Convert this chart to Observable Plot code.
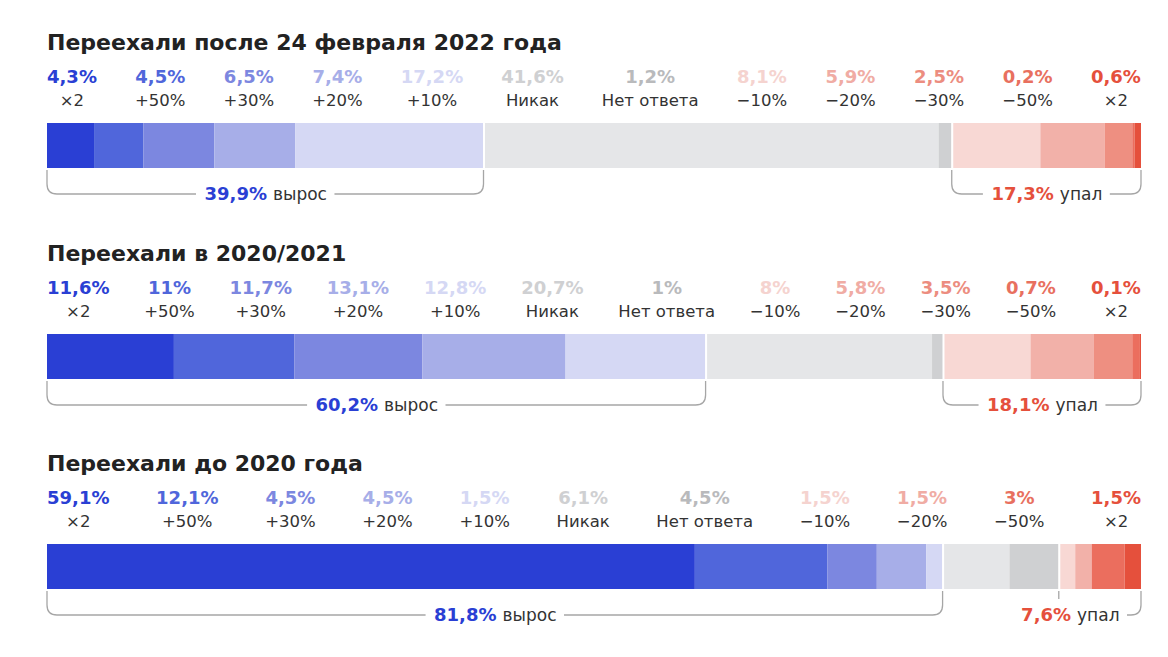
<!DOCTYPE html>
<html><head><meta charset="utf-8">
<script src="https://cdn.jsdelivr.net/npm/d3@7"></script>
<script src="https://cdn.jsdelivr.net/npm/@observablehq/plot@0.6"></script>
<style>
body{margin:0;background:#fff;font-family:"DejaVu Sans",sans-serif;}
#chart{position:relative;width:1168px;height:657px;overflow:hidden;}
.panel{position:absolute;left:0;width:1168px;height:210px;}
.title{position:absolute;left:47px;top:8px;font-weight:700;font-size:22px;line-height:26px;color:#222;white-space:nowrap;}
.labels{position:absolute;left:47px;top:42px;width:1094px;display:flex;justify-content:space-between;}
.item{display:flex;flex-direction:column;align-items:center;white-space:nowrap;}
.pct{font-weight:700;font-size:18px;line-height:26px;}
.cat{font-size:16.5px;line-height:22px;color:#333;}
.plotwrap{position:absolute;left:0;top:93px;}
</style>
</head><body>
<div id="chart"></div>
<script>
// ---- data ----
const panelTitles = [
  "Переехали после 24 февраля 2022 года",
  "Переехали в 2020/2021",
  "Переехали до 2020 года"
];
const categoryKeys   = ["up2", "up50", "up30", "up20", "up10", "none", "noanswer", "down10", "down20", "down30", "down50", "down2"];
const categoryLabels = ["×2", "+50%", "+30%", "+20%", "+10%", "Никак", "Нет ответа", "−10%", "−20%", "−30%", "−50%", "×2"];
const categoryGroups = ["grew", "grew", "grew", "grew", "grew", "same", "same", "fell", "fell", "fell", "fell", "fell"];
const categoryColors = ["#2a3fd4", "#5066db", "#7c87e0", "#a7aee8", "#d5d8f4", "#e5e6e8", "#cfd0d2", "#f8d8d4", "#f2b1a9", "#ee8f81", "#eb6e5e", "#e5503c"];
const labelColors    = ["#2a3fd4", "#5066db", "#7c87e0", "#a7aee8", "#d5d8f4", "#cfd0d2", "#b9babc", "#f5d3cf", "#f0aca4", "#ec8d80", "#e8705f", "#e5503c"];
const valuesAfterFeb2022 = [4.3, 4.5, 6.5, 7.4, 17.2, 41.6, 1.2, 8.1, 5.9, 2.5, 0.2, 0.6];
const values2020_2021    = [11.6, 11, 11.7, 13.1, 12.8, 20.7, 1, 8, 5.8, 3.5, 0.7, 0.1];
const valuesBefore2020   = [59.1, 12.1, 4.5, 4.5, 1.5, 6.1, 4.5, 1.5, 1.5, null, 3, 1.5];
const grewTotals = [39.9, 60.2, 81.8];
const fellTotals = [17.3, 18.1, 7.6];
const grewWord = "вырос";
const fellWord = "упал";
const grewColor = "#2a3fd4";
const fellColor = "#e5503c";

// ---- layout ----
const panelValues = [valuesAfterFeb2022, values2020_2021, valuesBefore2020];
const FONT = '"DejaVu Sans", sans-serif';
const W = 1168, H = 95, ML = 47, MR = 27, MT = 8, MB = 42;
const R = 10, PAD = 8, GAP = 6, DROP = 26;
const PCT_SIZE = 18, WORD_SIZE = 17;
const fmt = v => String(v).replace(".", ",") + "%";
const ctx = document.createElement("canvas").getContext("2d");
function tw(s, font) { ctx.font = font; return ctx.measureText(s).width; }

function bracketMark(brackets) {
  return (index, scales, values, dims) => {
    const g = d3.create("svg:g").attr("fill", "none").attr("stroke", "#a6a6a6").attr("stroke-width", 1.3);
    const yTop = dims.height - dims.marginBottom + 2;
    const yLine = dims.height - dims.marginBottom + DROP;
    for (const b of brackets) {
      const X1 = scales.x(b.x1), X2 = scales.x(b.x2);
      const c = (X1 + X2) / 2 + b.shift;
      const tl = c - b.totalW / 2 - PAD, tr = c + b.totalW / 2 + PAD;
      let d;
      if (!b.crowded) {
        d = `M${X1},${yTop}V${yLine - R}Q${X1},${yLine} ${X1 + R},${yLine}H${tl}` +
            `M${tr},${yLine}H${X2 - R}Q${X2},${yLine} ${X2},${yLine - R}V${yTop}`;
      } else {
        d = `M${X1},${yTop}v8M${tr},${yLine}H${X2 - R}Q${X2},${yLine} ${X2},${yLine - R}V${yTop}`;
      }
      g.append("path").attr("d", d);
    }
    return g.node();
  };
}

const chart = document.getElementById("chart");
panelTitles.forEach((title, p) => {
  const rows = categoryKeys.map((key, i) => ({
    panel: title, key, label: categoryLabels[i], group: categoryGroups[i],
    value: panelValues[p][i], labelColor: labelColors[i]
  })).filter(d => d.value != null);
  let acc = 0;
  rows.forEach(d => { d.start = acc; acc += d.value; d.end = acc; });
  const total = acc;

  const panel = document.createElement("div");
  panel.className = "panel";
  panel.style.top = (22 + p * 210.5) + "px";
  const t = document.createElement("div");
  t.className = "title"; t.textContent = title;
  panel.appendChild(t);
  const lab = document.createElement("div");
  lab.className = "labels";
  rows.forEach(d => {
    const it = document.createElement("div"); it.className = "item";
    const a = document.createElement("div"); a.className = "pct"; a.style.color = d.labelColor; a.textContent = fmt(d.value);
    const b = document.createElement("div"); b.className = "cat"; b.textContent = d.label;
    it.appendChild(a); it.appendChild(b); lab.appendChild(it);
  });
  panel.appendChild(lab);

  const boundaries = rows.filter((d, i) => i > 0 && rows[i - 1].group !== d.group).map(d => ({panel: title, x: d.start}));
  const grewEnd = d3.max(rows.filter(d => d.group === "grew"), d => d.end);
  const fellStart = d3.min(rows.filter(d => d.group === "fell"), d => d.start);
  const k = (W - ML - MR) / total;
  const brackets = [
    {x1: 0, x2: grewEnd, pct: fmt(grewTotals[p]), word: grewWord, color: grewColor},
    {x1: fellStart, x2: total, pct: fmt(fellTotals[p]), word: fellWord, color: fellColor}
  ].map(b => {
    const wP = tw(b.pct, `700 ${PCT_SIZE}px ${FONT}`);
    const wW = tw(b.word, `${WORD_SIZE}px ${FONT}`);
    const totalW = wP + GAP + wW;
    const spanPx = (b.x2 - b.x1) * k;
    const crowded = totalW + 2 * PAD + 2 * R > spanPx;
    const shift = crowded ? spanPx / 2 - 22 - totalW / 2 : 0;
    return {...b, wP, wW, totalW, crowded, shift,
      cx: (b.x1 + b.x2) / 2,
      pctDx: shift - totalW / 2 + wP,
      wordDx: shift - totalW / 2 + wP + GAP};
  });

  const svg = Plot.plot({
    width: W, height: H,
    marginLeft: ML, marginRight: MR, marginTop: MT, marginBottom: MB,
    x: {domain: [0, total], axis: null},
    y: {domain: [title], axis: null, padding: 0},
    color: {domain: categoryKeys, range: categoryColors},
    style: {fontFamily: FONT, background: "transparent", overflow: "visible"},
    marks: [
      Plot.barX(rows, Plot.stackX({x: "value", y: "panel", fill: "key", order: null})),
      Plot.tickX(boundaries, {x: "x", y: "panel", stroke: "white", strokeWidth: 2}),
      bracketMark(brackets),
      ...brackets.flatMap(b => [
        Plot.text([b], {x: "cx", frameAnchor: "bottom", lineAnchor: "middle", dy: DROP, dx: b.pctDx, text: "pct",
          textAnchor: "end", fill: b.color, fontWeight: 700, fontSize: PCT_SIZE}),
        Plot.text([b], {x: "cx", frameAnchor: "bottom", lineAnchor: "middle", dy: DROP, dx: b.wordDx, text: "word",
          textAnchor: "start", fill: "#333", fontSize: WORD_SIZE})
      ])
    ]
  });
  const wrap = document.createElement("div");
  wrap.className = "plotwrap";
  wrap.appendChild(svg);
  panel.appendChild(wrap);
  chart.appendChild(panel);
});
</script>
</body></html>
